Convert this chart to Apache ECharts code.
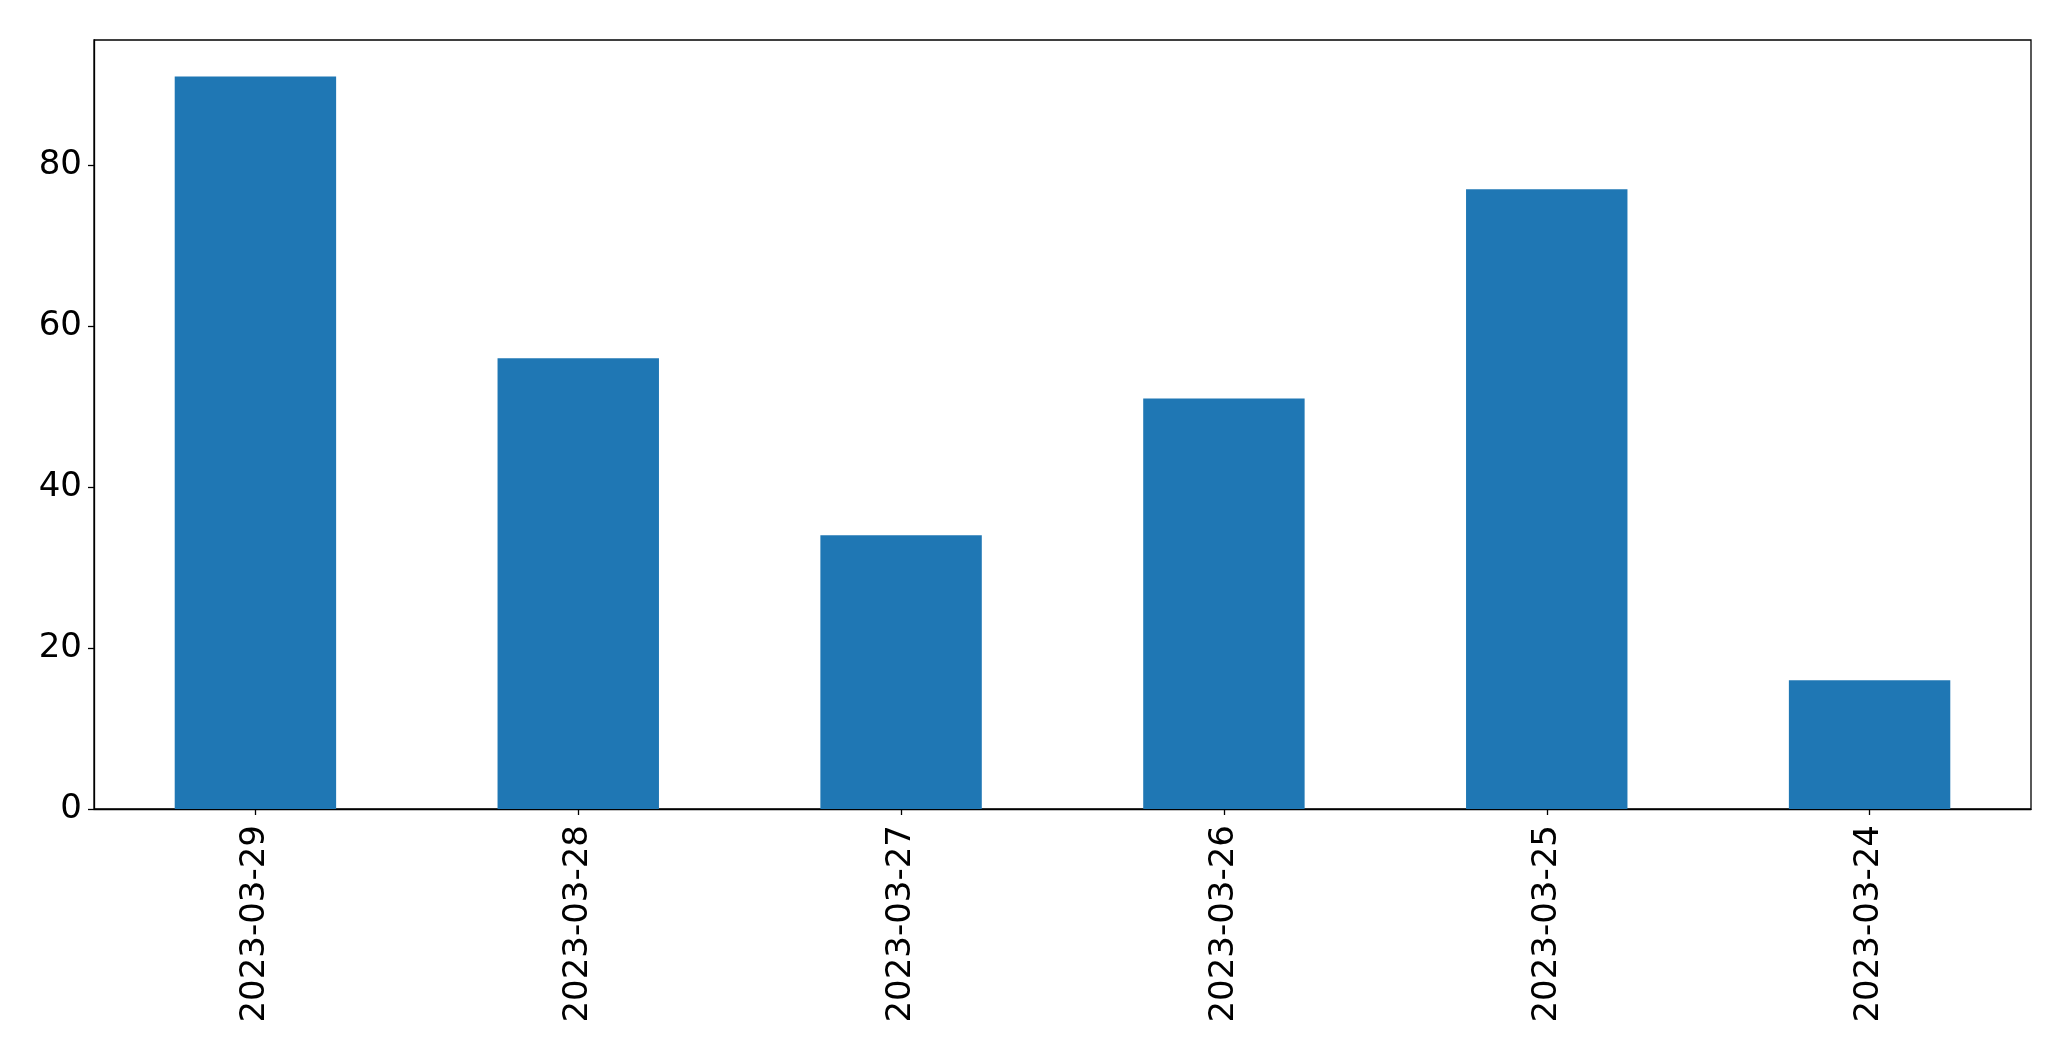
<!DOCTYPE html>
<html>
<head>
<meta charset="utf-8">
<script src="https://cdn.jsdelivr.net/npm/echarts@6/dist/echarts.min.js"></script>
<style>
html,body{margin:0;padding:0;background:#fff;}
#chart{width:2071px;height:1061px;}
</style>
</head>
<body>
<div id="chart"></div>
<script>
const categories = ["2023-03-29","2023-03-28","2023-03-27","2023-03-26","2023-03-25","2023-03-24"];
const values = [91, 56, 34, 51, 77, 16];
const yTicks = [0, 20, 40, 60, 80];

const chart = echarts.init(document.getElementById('chart'));
const font = 'DejaVu Sans';
chart.setOption({
  animation: false,
  backgroundColor: '#fff',
  grid: {
    left: 94, right: 40, top: 40, bottom: 252,
    show: true, borderColor: '#000', borderWidth: 1.3, backgroundColor: 'transparent'
  },
  xAxis: {
    type: 'category',
    data: categories,
    boundaryGap: true,
    axisLine: {show: true, lineStyle: {color: '#000', width: 1.3}},
    axisTick: {show: true, alignWithLabel: true, length: 6, lineStyle: {color: '#000', width: 1.3}},
    axisLabel: {rotate: 90, margin: 16, fontSize: 34, color: '#000', fontFamily: font},
    splitLine: {show: false}
  },
  yAxis: {
    type: 'value',
    min: 0,
    max: 95.55,
    interval: 20,
    axisLine: {show: true, lineStyle: {color: '#000', width: 1.3}},
    axisTick: {show: true, length: 6, customValues: yTicks, lineStyle: {color: '#000', width: 1.3}},
    axisLabel: {
      margin: 12, fontSize: 34, color: '#000', fontFamily: font,
      customValues: yTicks
    },
    splitLine: {show: false}
  },
  series: [{
    type: 'bar',
    data: values,
    barWidth: '50%',
    itemStyle: {color: '#1f77b4'}
  }]
});
</script>
</body>
</html>
